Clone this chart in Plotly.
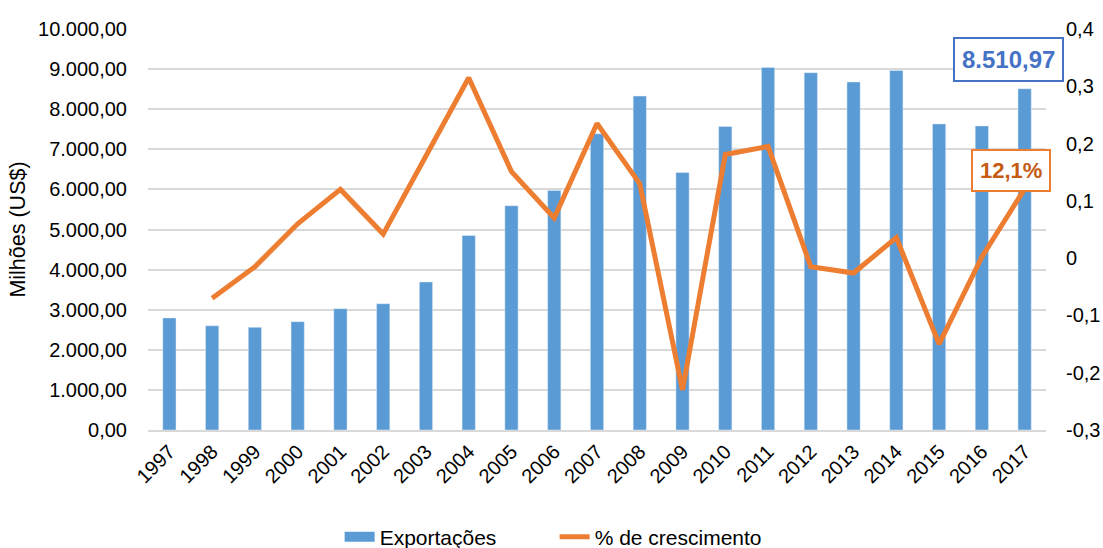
import plotly.graph_objects as go

years = [str(y) for y in range(1997, 2018)]
exportacoes = [2795, 2598, 2562, 2702, 3025, 3150, 3692, 4851, 5592, 5975, 7385,
               8328, 6421, 7570, 9041, 8910, 8680, 8967, 7633, 7583, 8510.97]
crescimento = [None, -0.070, -0.015, 0.060, 0.120, 0.042, 0.177, 0.315, 0.151, 0.070,
               0.235, 0.130, -0.230, 0.181, 0.195, -0.015, -0.026, 0.036, -0.150, 0.002, 0.121]
left_ticks = [0, 1000, 2000, 3000, 4000, 5000, 6000, 7000, 8000, 9000, 10000]
right_ticks = [-0.3, -0.2, -0.1, 0, 0.1, 0.2, 0.3, 0.4]
right_labels = ["-0,3", "-0,2", "-0,1", "0", "0,1", "0,2", "0,3", "0,4"]

FONT = "Liberation Sans, Arial, sans-serif"
BLUE = "#5B9BD5"
ORANGE = "#ED7D31"

fig = go.Figure()
fig.add_trace(go.Bar(x=years, y=exportacoes, name="Exportações",
                     marker=dict(color=BLUE), width=0.31, showlegend=False))
# legend swatch for the bars (wide rectangle like the original)
fig.add_trace(go.Scatter(x=[None], y=[None], name="Exportações", mode="lines",
                         line=dict(color=BLUE, width=14), hoverinfo="skip"))
fig.add_trace(go.Scatter(x=years, y=crescimento, name="% de crescimento", yaxis="y2",
                         mode="lines", line=dict(color=ORANGE, width=5),
                         connectgaps=False))

fig.add_annotation(xref="paper", yref="paper", x=0.958, y=0.925,
                   xanchor="center", yanchor="middle",
                   text="<b>8.510,97</b>", showarrow=False,
                   font=dict(family=FONT, size=24, color="#4472C4"),
                   bordercolor="#4472C4", borderwidth=2, borderpad=7, bgcolor="white")
fig.add_annotation(xref="paper", yref="paper", x=0.961, y=0.648,
                   xanchor="center", yanchor="middle",
                   text="<b>12,1%</b>", showarrow=False,
                   font=dict(family=FONT, size=22, color="#C55A11"),
                   bordercolor=ORANGE, borderwidth=2, borderpad=7, bgcolor="white")

fig.update_layout(
    width=1103, height=548,
    margin=dict(l=148, r=57, t=29, b=118, autoexpand=False),
    paper_bgcolor="white", plot_bgcolor="white",
    separators=",.",
    font=dict(family=FONT, size=20, color="#000000"),
    showlegend=True,
    legend=dict(orientation="h", x=0.2134, xanchor="left", y=-0.267, yanchor="middle",
                font=dict(size=21), entrywidth=170, entrywidthmode="pixels",
                traceorder="normal"),
    xaxis=dict(type="category", tickangle=-45, showgrid=False, showline=True,
               linecolor="#D9D9D9", linewidth=2, ticks="", range=[-0.5, 20.5],
               tickfont=dict(size=20), automargin=False),
    yaxis=dict(range=[0, 10000], tickvals=left_ticks, tickformat=",.2f",
               showgrid=True, gridcolor="#D9D9D9", gridwidth=1.5, zeroline=False,
               showline=False, ticks="", ticklabelstandoff=20, automargin=False,
               title=dict(text="Milhões (US$)", font=dict(size=21.5), standoff=6)),
    yaxis2=dict(range=[-0.3, 0.4], overlaying="y", side="right", tickvals=right_ticks,
                ticktext=right_labels, showgrid=False, zeroline=False, showline=False,
                ticks="", ticklabelstandoff=19, automargin=False),
)

fig.write_html("out.html",
               config={"displayModeBar": False},
               post_script="document.body.style.margin='0';"
                           "document.body.style.overflow='hidden';")
